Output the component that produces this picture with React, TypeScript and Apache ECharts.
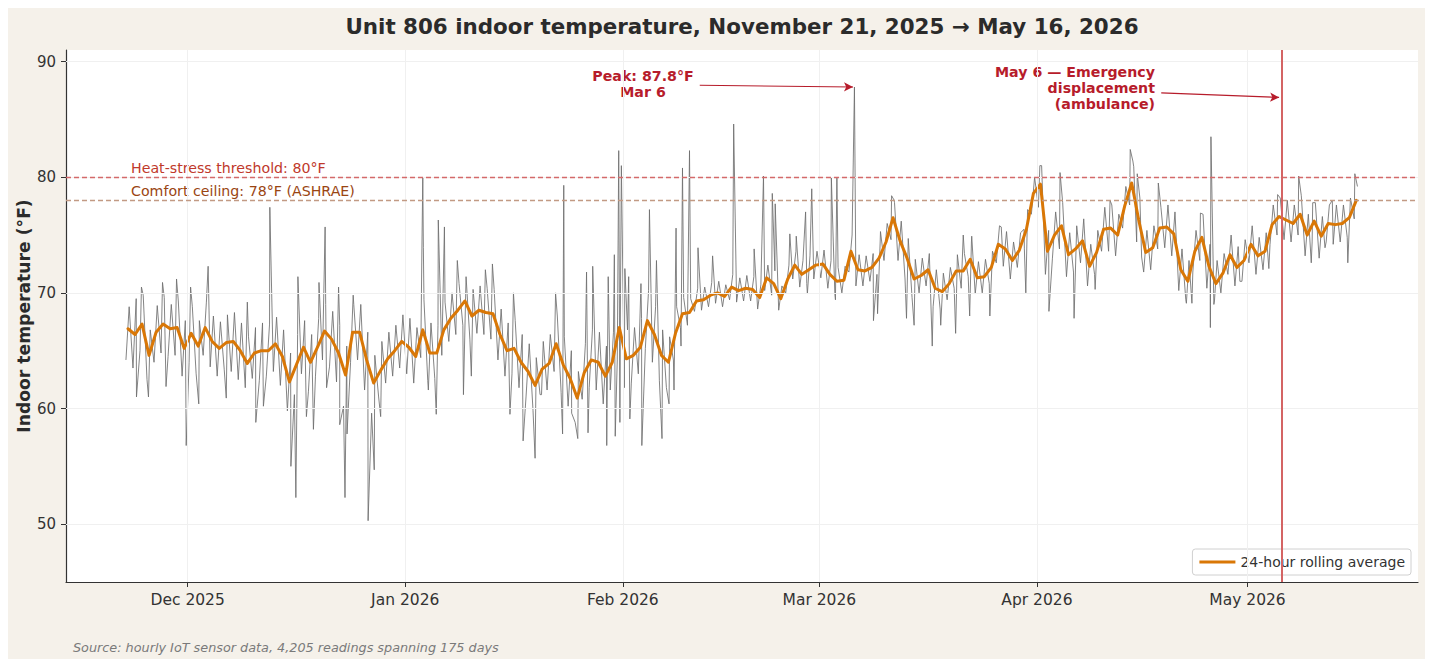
import React, { useEffect, useRef } from 'react';
import * as echarts from 'echarts';

// ---- Data ----
// 24-hour rolling average, one reading per day at 12:00, Nov 22 2025 -> May 16 2026
const rollingAvg: number[] = [
  // Nov 22-30
  66.9, 66.4, 67.3, 64.6, 66.6, 67.3, 66.9, 67.0, 65.2,
  // Dec
  66.5, 65.4, 67.0, 65.8, 65.2, 65.7, 65.8, 65.0, 63.9, 64.8,
  65.0, 65.0, 65.6, 64.5, 62.3, 63.8, 65.3, 64.0, 65.3, 66.7,
  66.0, 64.8, 62.9, 66.6, 66.6, 64.2, 62.2, 63.3, 64.3, 65.0, 65.8,
  // Jan
  65.3, 64.5, 66.8, 64.8, 64.8, 66.8, 67.8, 68.5, 69.3, 68.0,
  68.5, 68.3, 68.2, 66.4, 65.0, 65.2, 64.0, 63.2, 62.0, 63.4,
  63.9, 65.6, 63.8, 62.6, 60.9, 63.1, 64.2, 64.0, 62.8, 64.0, 67.0,
  // Feb
  64.3, 64.6, 65.3, 67.6, 66.4, 64.6, 64.0, 66.5, 68.2, 68.3,
  69.3, 69.4, 69.8, 70.0, 69.7, 70.5, 70.2, 70.4, 70.3, 69.6,
  71.3, 70.8, 69.5, 71.2, 72.4, 71.6, 72.0, 72.4,
  // Mar
  72.5, 71.6, 71.0, 71.1, 73.6, 72.0, 71.9, 72.2, 73.0, 74.4,
  76.5, 74.5, 73.0, 71.2, 71.5, 72.0, 70.4, 70.1, 70.8, 71.9,
  71.9, 72.9, 71.3, 71.4, 72.2, 74.2, 73.8, 72.8, 73.7, 75.5, 78.6,
  // Apr
  79.4, 73.6, 75.0, 75.8, 73.3, 73.8, 74.5, 72.3, 73.5, 75.5,
  75.6, 75.0, 77.5, 79.5, 76.3, 73.5, 73.9, 75.6, 75.7, 75.1,
  72.0, 71.0, 73.6, 74.8, 72.3, 70.8, 71.7, 73.3, 72.2, 72.8,
  // May 1-16
  74.2, 73.2, 73.6, 75.9, 76.6, 76.3, 76.0, 76.8, 75.0, 76.2,
  74.9, 76.0, 75.9, 76.0, 76.5, 78.0,
];

// hourly readings: typical early-morning low and afternoon high of each day
const dailyLow: number[] = [
  64.2, 63.5, 65.0, 62.5, 64.0, 64.8, 64.5, 64.6, 62.8,
  64.0, 63.0, 64.6, 63.6, 62.8, 63.4, 63.2, 62.5, 61.8, 62.6,
  62.4, 62.8, 63.2, 62.0, 59.8, 61.2, 63.0, 61.5, 62.8, 64.2,
  63.6, 62.3, 60.2, 64.0, 64.2, 61.6, 59.6, 61.0, 62.2, 62.8, 63.5,
  63.0, 62.2, 64.4, 62.4, 62.6, 64.6, 65.8, 66.4, 67.2, 66.0,
  66.5, 66.4, 66.0, 64.2, 62.8, 63.0, 61.8, 61.0, 59.8, 61.2,
  61.6, 63.2, 61.4, 60.2, 58.8, 60.8, 61.8, 61.6, 60.4, 61.6, 64.2,
  61.8, 62.2, 63.0, 65.2, 64.0, 62.4, 61.8, 64.2, 67.0, 67.2,
  68.4, 68.5, 68.8, 69.1, 68.8, 69.4, 69.2, 69.3, 69.3, 68.6,
  70.2, 69.8, 68.5, 70.0, 71.2, 70.5, 70.8, 71.2,
  71.3, 70.4, 69.9, 70.0, 71.8, 70.6, 70.6, 71.0, 71.6, 72.8,
  74.6, 72.8, 71.2, 69.6, 70.0, 70.6, 68.8, 68.6, 69.4, 70.4,
  70.4, 71.4, 69.9, 70.0, 70.8, 72.6, 72.3, 71.2, 72.2, 73.8, 76.8,
  77.4, 71.6, 73.0, 73.8, 71.4, 71.8, 72.6, 70.6, 71.6, 73.6,
  73.6, 73.2, 75.6, 77.6, 74.4, 71.8, 72.0, 73.8, 73.9, 73.2,
  70.2, 69.4, 71.8, 72.8, 70.4, 69.0, 70.0, 71.6, 70.6, 71.0,
  72.6, 71.6, 72.0, 74.2, 75.0, 74.6, 74.4, 75.0, 73.2, 74.4,
  73.0, 74.4, 74.2, 74.4, 74.8, 76.4,
];

const dailyHigh: number[] = [
  68.8, 69.5, 69.8, 66.8, 68.9, 69.6, 69.0, 69.3, 67.6,
  68.8, 67.6, 69.2, 68.0, 67.5, 68.1, 68.3, 67.4, 66.2, 67.0,
  67.4, 67.3, 67.9, 66.8, 64.8, 66.4, 67.6, 66.4, 67.8, 69.0,
  68.4, 67.2, 65.4, 69.0, 69.0, 66.6, 64.6, 65.8, 66.6, 67.2, 68.1,
  67.8, 67.0, 69.4, 67.4, 67.2, 69.2, 70.0, 70.8, 71.4, 70.3,
  70.6, 70.4, 70.3, 68.6, 67.4, 67.6, 66.4, 65.6, 64.4, 65.8,
  66.4, 68.0, 66.2, 65.0, 63.2, 65.6, 66.8, 66.6, 65.4, 66.6, 69.8,
  66.8, 67.0, 67.8, 70.2, 68.8, 66.8, 66.2, 68.8, 69.6, 69.5,
  70.4, 70.5, 70.9, 71.0, 70.7, 71.6, 71.3, 71.5, 71.4, 70.7,
  72.4, 71.9, 70.6, 72.4, 73.6, 72.8, 73.2, 73.6,
  73.7, 72.8, 72.2, 72.3, 75.0, 73.3, 73.2, 73.4, 74.4, 76.0,
  78.0, 76.2, 74.7, 72.9, 73.0, 73.4, 72.0, 71.7, 72.2, 73.3,
  73.4, 74.4, 72.7, 72.9, 73.6, 75.8, 75.3, 74.4, 75.2, 77.2, 80.0,
  81.0, 75.4, 77.0, 77.8, 75.2, 75.8, 76.4, 74.2, 75.4, 77.4,
  77.6, 76.8, 79.2, 81.4, 78.2, 75.4, 75.8, 77.4, 77.6, 77.0,
  73.8, 72.8, 75.4, 76.8, 74.2, 72.8, 73.4, 75.0, 74.0, 74.6,
  75.8, 74.8, 75.2, 77.6, 78.2, 78.0, 77.6, 78.4, 76.8, 77.8,
  76.6, 77.6, 77.6, 77.6, 78.2, 79.2,
];

// single-hour excursions visible as spikes
const upSpikes: [string, number][] = [
  ['2025-11-24T10:00', 70.5], ['2025-11-27T10:00', 70.9], ['2025-11-29T10:00', 71.2],
  ['2025-12-01T10:00', 70.5], ['2025-12-03T22:00', 72.3], ['2025-12-09T12:00', 69.2],
  ['2025-12-12T17:00', 77.4], ['2025-12-16T17:00', 71.4], ['2025-12-19T17:00', 70.9],
  ['2025-12-20T14:00', 75.7], ['2025-12-22T12:00', 70.5], ['2025-12-24T14:00', 69.8],
  ['2026-01-03T09:00', 73.8], ['2026-01-03T12:00', 80.0], ['2026-01-03T14:00', 73.9],
  ['2026-01-05T17:00', 76.3], ['2026-01-06T14:00', 75.7], ['2026-01-08T10:00', 72.8],
  ['2026-01-12T10:00', 72.0], ['2026-01-13T10:00', 72.5], ['2026-01-16T10:00', 70.0],
  ['2026-01-22T10:00', 70.0], ['2026-01-23T14:00', 79.3], ['2026-01-26T20:00', 71.8],
  ['2026-01-27T17:00', 72.3], ['2026-01-29T22:00', 71.4], ['2026-01-30T19:00', 73.3],
  ['2026-01-31T10:00', 82.3], ['2026-01-31T19:00', 81.0], ['2026-02-01T07:00', 72.1],
  ['2026-02-01T20:00', 71.4], ['2026-02-03T14:00', 70.8], ['2026-02-04T19:00', 77.2],
  ['2026-02-05T19:00', 72.8], ['2026-02-08T14:00', 75.6], ['2026-02-09T12:00', 80.8],
  ['2026-02-10T12:00', 82.3], ['2026-02-11T17:00', 73.9], ['2026-02-13T19:00', 73.2],
  ['2026-02-16T19:00', 84.6], ['2026-02-19T17:00', 73.8], ['2026-02-21T01:00', 80.1],
  ['2026-02-22T07:00', 78.6], ['2026-02-22T17:00', 77.7], ['2026-02-24T19:00', 75.1],
  ['2026-02-25T17:00', 74.9], ['2026-02-27T01:00', 77.0], ['2026-02-27T22:00', 79.0],
  ['2026-03-02T17:00', 80.0], ['2026-03-03T12:00', 80.0], ['2026-03-06T00:00', 87.8],
  ['2026-03-09T17:00', 75.3], ['2026-03-11T07:00', 78.4], ['2026-03-11T17:00', 77.8],
  ['2026-03-21T12:00', 75.0], ['2026-03-22T17:00', 74.9], ['2026-03-26T22:00', 75.7],
  ['2026-03-30T04:00', 75.5], ['2026-04-01T10:00', 81.0], ['2026-04-04T07:00', 80.4],
  ['2026-04-11T10:00', 78.0], ['2026-04-14T07:00', 82.4], ['2026-04-14T19:00', 80.9],
  ['2026-04-15T07:00', 80.3], ['2026-04-18T07:00', 79.5], ['2026-04-24T07:00', 76.9],
  ['2026-04-25T19:00', 83.5], ['2026-05-05T07:00', 78.5], ['2026-05-08T07:00', 80.1],
  ['2026-05-10T07:00', 77.8], ['2026-05-13T02:00', 78.0], ['2026-05-16T07:00', 80.3],
];

const downSpikes: [string, number][] = [
  ['2025-11-23T17:00', 61.0], ['2025-11-25T10:00', 61.0], ['2025-11-27T22:00', 61.9],
  ['2025-11-30T19:00', 56.8], ['2025-12-02T14:00', 60.4], ['2025-12-06T12:00', 60.9],
  ['2025-12-10T17:00', 58.8], ['2025-12-11T19:00', 60.2], ['2025-12-15T17:00', 55.0],
  ['2025-12-16T10:00', 52.3], ['2025-12-17T22:00', 59.3], ['2025-12-18T22:00', 58.2],
  ['2025-12-20T19:00', 61.8], ['2025-12-22T16:00', 58.6], ['2025-12-23T10:00', 52.3],
  ['2025-12-23T17:00', 57.8], ['2025-12-26T17:00', 50.3], ['2025-12-27T14:00', 54.7],
  ['2025-12-28T12:00', 59.3], ['2026-01-04T07:00', 61.6], ['2026-01-05T10:00', 59.5],
  ['2026-01-09T07:00', 61.2], ['2026-01-10T10:00', 62.8], ['2026-01-15T22:00', 59.5],
  ['2026-01-17T19:00', 57.2], ['2026-01-19T12:00', 55.7], ['2026-01-20T10:00', 61.2],
  ['2026-01-23T10:00', 57.8], ['2026-01-24T17:00', 59.6], ['2026-01-25T14:00', 57.4],
  ['2026-01-27T01:00', 57.9], ['2026-01-29T17:00', 56.8], ['2026-01-30T22:00', 57.6],
  ['2026-01-31T14:00', 58.8], ['2026-02-02T00:00', 59.1], ['2026-02-03T17:00', 56.8],
  ['2026-02-06T14:00', 57.4], ['2026-02-07T14:00', 60.4], ['2026-02-08T07:00', 61.6],
  ['2026-02-09T07:00', 65.4], ['2026-02-27T07:00', 69.9], ['2026-03-03T07:00', 69.4],
  ['2026-03-08T17:00', 67.6], ['2026-03-09T07:00', 68.2], ['2026-03-13T10:00', 67.8],
  ['2026-03-14T12:00', 67.2], ['2026-03-17T02:00', 65.4], ['2026-03-18T07:00', 67.2],
  ['2026-03-20T10:00', 66.5], ['2026-03-22T10:00', 68.0], ['2026-03-25T07:00', 68.0],
  ['2026-03-30T10:00', 70.0], ['2026-04-02T17:00', 68.4], ['2026-04-06T07:00', 67.8],
  ['2026-04-09T07:00', 70.3], ['2026-04-15T22:00', 73.1], ['2026-04-22T07:00', 69.1],
  ['2026-04-23T02:00', 69.1], ['2026-04-25T17:00', 67.0], ['2026-04-26T07:00', 69.3],
  ['2026-04-29T22:00', 71.0], ['2026-05-04T01:00', 72.1], ['2026-05-10T02:00', 72.6],
  ['2026-05-12T01:00', 73.9], ['2026-05-15T07:00', 72.6],
];

const monthTicks: string[] = ['2025-12-01', '2026-01-01', '2026-02-01', '2026-03-01', '2026-04-01', '2026-05-01'];
const monthLabels: string[] = ['Dec 2025', 'Jan 2026', 'Feb 2026', 'Mar 2026', 'Apr 2026', 'May 2026'];
const yTicks: number[] = [50, 60, 70, 80, 90];

const HEAT_THRESHOLD = 80;
const COMFORT_CEILING = 78;
const PEAK_VALUE = 87.8;
const EVENT_TIME = '2026-05-05T21:00';

const FONT = '"DejaVu Sans", "Liberation Sans", sans-serif';

const ts = (s: string) => new Date(s.length === 10 ? s + 'T00:00' : s).getTime();
const dayTs = (i: number, h: number) => new Date(2025, 10, 22 + i, h).getTime();

export default function App() {
  const ref = useRef<HTMLDivElement>(null);

  useEffect(() => {
    if (!ref.current) return;
    const chart = echarts.init(ref.current, undefined, { renderer: 'svg' });

    const avgData = rollingAvg.map((v, i) => [dayTs(i, 12), v]);
    const raw: number[][] = [];
    dailyLow.forEach((v, i) => raw.push([dayTs(i, 5), v]));
    dailyHigh.forEach((v, i) => raw.push([dayTs(i, 16), v]));
    [...upSpikes, ...downSpikes].forEach(([s, v]) => raw.push([ts(s), v]));
    raw.sort((a, b) => a[0] - b[0]);

    const tickTs = monthTicks.map(ts);

    const gridLines = [
      ...tickTs.map((t) => ({ xAxis: t })),
      ...yTicks.map((v) => ({ yAxis: v })),
    ];

    const arrowStyle = { color: '#b71c2b', width: 1.2, type: 'solid' };

    chart.setOption({
      animation: false,
      backgroundColor: '#f5f1ea',
      textStyle: { fontFamily: FONT },
      grid: {
        left: 58, top: 42, right: 10, bottom: 77,
        show: true, backgroundColor: '#ffffff', borderWidth: 0,
      },
      legend: {
        right: 17, top: 541,
        data: [{ name: '24-hour rolling average', icon: 'rect' }],
        itemWidth: 36, itemHeight: 3,
        padding: [6, 6, 6, 7],
        backgroundColor: '#ffffff',
        borderColor: '#d0d0d0', borderWidth: 1, borderRadius: 3,
        textStyle: { fontSize: 14, color: '#333', fontFamily: FONT },
      },
      xAxis: {
        type: 'value',
        min: ts('2025-11-13T16:00'),
        max: ts('2026-05-25T07:00'),
        axisLine: { show: true, lineStyle: { color: '#333', width: 1.2 } },
        axisTick: { show: true, length: 5, lineStyle: { color: '#333' }, customValues: tickTs },
        axisLabel: {
          customValues: tickTs,
          margin: 10,
          fontSize: 15.5,
          color: '#333',
          fontFamily: FONT,
          formatter: (v: number) => {
            const idx = tickTs.findIndex((t) => Math.abs(t - v) < 3600000);
            return idx >= 0 ? monthLabels[idx] : '';
          },
        },
        splitLine: { show: false },
      },
      yAxis: {
        type: 'value',
        min: 45,
        max: 91,
        axisLine: { show: true, lineStyle: { color: '#333', width: 1.2 } },
        axisTick: { show: true, length: 5, lineStyle: { color: '#333' }, customValues: yTicks },
        axisLabel: { customValues: yTicks, margin: 10, fontSize: 15, color: '#333', fontFamily: FONT },
        splitLine: { show: false },
      },
      graphic: [
        {
          type: 'text', x: 734, y: 18,
          style: {
            text: 'Unit 806 indoor temperature, November 21, 2025 \u2192 May 16, 2026',
            font: `bold 21.4px ${FONT}`, fill: '#2b2b2b', textAlign: 'center', textVerticalAlign: 'middle',
          },
        },
        {
          type: 'text', x: 16, y: 308, rotation: Math.PI / 2,
          style: {
            text: 'Indoor temperature (\u00b0F)',
            font: `bold 17.2px ${FONT}`, fill: '#2b2b2b', textAlign: 'center', textVerticalAlign: 'middle',
          },
        },
        {
          type: 'text', x: 123, y: 160,
          style: { text: 'Heat-stress threshold: 80\u00b0F', font: `14.2px ${FONT}`, fill: '#c0392b', textVerticalAlign: 'middle' },
        },
        {
          type: 'text', x: 123, y: 183,
          style: { text: 'Comfort ceiling: 78\u00b0F (ASHRAE)', font: `14.2px ${FONT}`, fill: '#9a4512', textVerticalAlign: 'middle' },
        },
        {
          type: 'text', x: 635, y: 68,
          style: { text: 'Peak: 87.8\u00b0F', font: `bold 14.2px ${FONT}`, fill: '#b71c2b', textAlign: 'center', textVerticalAlign: 'middle' },
        },
        {
          type: 'text', x: 635, y: 84,
          style: { text: 'Mar 6', font: `bold 14.2px ${FONT}`, fill: '#b71c2b', textAlign: 'center', textVerticalAlign: 'middle' },
        },
        {
          type: 'text', x: 1147, y: 64,
          style: { text: 'May 6 \u2014 Emergency', font: `bold 14.2px ${FONT}`, fill: '#b71c2b', textAlign: 'right', textVerticalAlign: 'middle' },
        },
        {
          type: 'text', x: 1147, y: 80,
          style: { text: 'displacement', font: `bold 14.2px ${FONT}`, fill: '#b71c2b', textAlign: 'right', textVerticalAlign: 'middle' },
        },
        {
          type: 'text', x: 1147, y: 96,
          style: { text: '(ambulance)', font: `bold 14.2px ${FONT}`, fill: '#b71c2b', textAlign: 'right', textVerticalAlign: 'middle' },
        },
        {
          type: 'text', x: 65, y: 639,
          style: {
            text: 'Source: hourly IoT sensor data, 4,205 readings spanning 175 days',
            font: `italic 12.8px ${FONT}`, fill: '#7a7a7a', textVerticalAlign: 'middle',
          },
        },
      ],
      series: [
        {
          name: 'grid',
          type: 'line',
          data: [],
          silent: true,
          z: 1,
          markLine: {
            silent: true,
            symbol: 'none',
            label: { show: false },
            lineStyle: { color: '#f0f0f0', width: 1, type: 'solid' },
            data: gridLines,
          },
        },
        {
          name: 'Hourly readings',
          type: 'line',
          data: raw,
          showSymbol: false,
          silent: true,
          z: 2,
          lineStyle: { color: '#6f6f6f', width: 1, opacity: 0.85 },
        },
        {
          name: '24-hour rolling average',
          type: 'line',
          data: avgData,
          showSymbol: false,
          silent: true,
          z: 3,
          color: '#d97706',
          lineStyle: { color: '#d97706', width: 3, join: 'round', cap: 'round' },
          markLine: {
            silent: true,
            symbol: 'none',
            label: { show: false },
            data: [
              { yAxis: HEAT_THRESHOLD, lineStyle: { color: '#d46a6a', width: 1.3, type: [5, 3] } },
              { yAxis: COMFORT_CEILING, lineStyle: { color: '#c29a84', width: 1.3, type: [5, 3] } },
              { xAxis: ts(EVENT_TIME), lineStyle: { color: '#d46464', width: 2, type: 'solid' } },
              [
                { coord: [ts('2026-02-11T23:00'), 87.95], symbol: 'none', lineStyle: arrowStyle },
                { coord: [ts('2026-03-05T19:00'), PEAK_VALUE], symbol: 'arrow', symbolSize: [7, 9], lineStyle: arrowStyle },
              ],
              [
                { coord: [ts('2026-04-18T17:00'), 87.3], symbol: 'none', lineStyle: arrowStyle },
                { coord: [ts('2026-05-05T12:00'), 86.9], symbol: 'arrow', symbolSize: [7, 9], lineStyle: arrowStyle },
              ],
            ],
          },
        },
      ],
    });

    return () => chart.dispose();
  }, []);

  return <div ref={ref} style={{ width: 1420, height: 651 }} />;
}
